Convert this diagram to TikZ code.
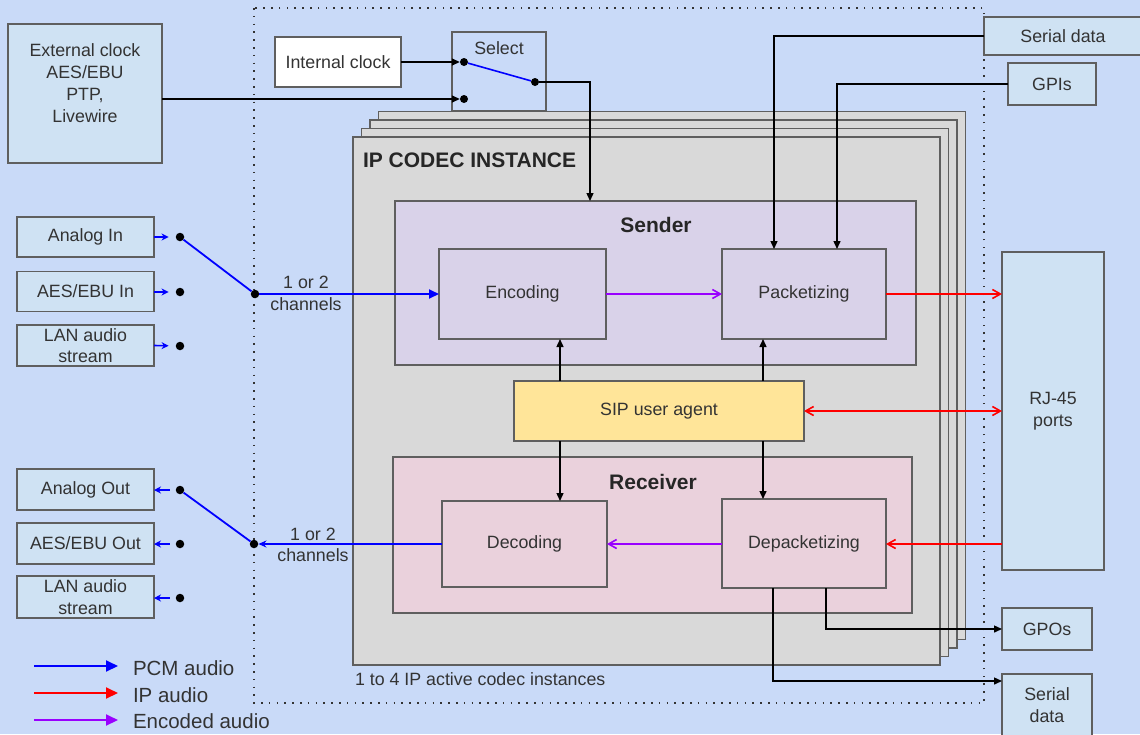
\documentclass[tikz,border=0pt]{standalone}
\usepackage{fontspec}
\setmainfont{Liberation Sans}
\usetikzlibrary{arrows.meta,calc}
\definecolor{bg}{HTML}{C9DAF8}
\definecolor{boxblue}{HTML}{CFE2F3}
\definecolor{stackgray}{HTML}{D9D9D9}
\definecolor{sendfill}{HTML}{D9D2E9}
\definecolor{recvfill}{HTML}{EAD1DC}
\definecolor{sipfill}{HTML}{FFE599}
\definecolor{edge}{HTML}{5F5F5F}
\definecolor{txt}{HTML}{333333}
\definecolor{pcm}{HTML}{0000FF}
\definecolor{ipa}{HTML}{FF0000}
\definecolor{enca}{HTML}{9900FF}
\newcommand\boxfnt{\fontsize{17.8}{21.5}\selectfont}
\newcommand\headfnt{\fontsize{21}{24}\selectfont\bfseries}
\tikzset{
  plainbox/.style={draw=edge, line width=1.3pt, inner sep=0pt, outer sep=0pt, align=center, text=txt, font=\boxfnt},
  lbox/.style={plainbox, fill=boxblue},
  lbl/.style={inner sep=0pt, outer sep=0pt, align=center, text=txt, font=\boxfnt},
  head/.style={inner sep=0pt, outer sep=0pt, text=black!85, font=\headfnt},
  blk/.style={draw=black, line width=1.4pt, -{Triangle[length=8pt,width=7pt]}},
  bluearr/.style={draw=pcm, line width=1.8pt, -{Triangle[length=10pt,width=9pt]}},
  smallblue/.style={draw=pcm, line width=1.6pt, -{Stealth[length=7pt,width=7pt]}},
  redarr/.style={draw=ipa, line width=1.6pt, -{Straight Barb[length=8pt,width=9pt]}},
  purparr/.style={draw=enca, line width=1.6pt, -{Straight Barb[length=8pt,width=9pt]}},
  dotnode/.style={circle, fill=black, inner sep=0pt, minimum size=8.5pt},
  frame/.style={draw=black!80, line width=1.6pt, dash pattern=on 1.6pt off 6.2pt},
  legarr/.style={line width=2pt, -{Triangle[length=12pt,width=11pt]}}
}
\begin{document}
\begin{tikzpicture}[x=1pt,y=-1pt]
\useasboundingbox (0,0) rectangle (1140,734);
\fill[bg] (0,0) rectangle (1140,734);
% dotted frame
\draw[frame] (254,8) rectangle (984,703);
% external clock
\node[lbox, minimum width=154, minimum height=139] (extclk) at (85,93.5) {};
\node[lbl, font=\fontsize{17.8}{22}\selectfont] (extclktxt) at (85,83) {External clock\\AES/EBU\\PTP,\\Livewire};
% internal clock and select
\node[plainbox, fill=white, minimum width=126, minimum height=50] (intclk) at (338,62) {Internal clock};
\node[plainbox, fill=bg, minimum width=94, minimum height=79] (select) at (499,71.5) {};
\node[lbl] (seltxt) at (499,48) {Select};
% codec stack
\foreach \k in {3,2,1} {
  \draw[draw=edge, line width=1.3pt, fill=stackgray] ({353+8.5*\k},{137-8.5*\k}) rectangle ({940+8.5*\k},{665-8.5*\k});
}
\node[plainbox, fill=stackgray, minimum width=587, minimum height=528] (codec) at (646.5,401) {};
\node[head, anchor=west] (codectitle) at (363,160) {IP CODEC INSTANCE};
% sender
\node[plainbox, fill=sendfill, minimum width=521, minimum height=164] (sender) at (655.5,283) {};
\node[head] (sendertxt) at (656,225) {Sender};
\node[plainbox, fill=sendfill, minimum width=167, minimum height=90] (enc) at (522.5,294) {Encoding};
\node[plainbox, fill=sendfill, minimum width=164, minimum height=90] (pack) at (804,294) {Packetizing};
% SIP
\node[plainbox, fill=sipfill, minimum width=290, minimum height=60] (sip) at (659,411) {SIP user agent};
% receiver
\node[plainbox, fill=recvfill, minimum width=519, minimum height=156] (recv) at (652.5,535) {};
\node[head] (recvtxt) at (653,482) {Receiver};
\node[plainbox, fill=recvfill, minimum width=165, minimum height=86] (dec) at (524.5,544) {Decoding};
\node[plainbox, fill=recvfill, minimum width=164, minimum height=89] (depack) at (804,543.5) {Depacketizing};
% right side
\node[lbox, minimum width=102, minimum height=318] (rj) at (1053,411) {RJ-45\\ports};
\node[lbox, minimum width=158, minimum height=38] (sertop) at (1063,36) {Serial data};
\node[lbox, minimum width=88, minimum height=42] (gpis) at (1052,84) {GPIs};
\node[lbox, minimum width=90, minimum height=42] (gpos) at (1047,629) {GPOs};
\node[lbox, minimum width=90, minimum height=62] (serbot) at (1047,705) {Serial\\data};
% left inputs
\node[lbox, minimum width=137, minimum height=40] (ain) at (85.5,237) {Analog In};
\node[lbox, minimum width=137, minimum height=40] (aesin) at (85.5,291.5) {AES/EBU In};
\node[lbox, minimum width=137, minimum height=41] (lanin) at (85.5,345.5) {LAN audio\\stream};
\node[lbox, minimum width=137, minimum height=41] (aout) at (85.5,489.5) {Analog Out};
\node[lbox, minimum width=137, minimum height=41] (aesout) at (85.5,543.5) {AES/EBU Out};
\node[lbox, minimum width=137, minimum height=42] (lanout) at (85.5,597) {LAN audio\\stream};
% dots
\node[dotnode] (d1) at (180,237) {};
\node[dotnode] (d2) at (180,292) {};
\node[dotnode] (d3) at (180,346) {};
\node[dotnode] (jin) at (255,294) {};
\node[dotnode] (o1) at (180,490) {};
\node[dotnode] (o2) at (180,544) {};
\node[dotnode] (o3) at (180,598) {};
\node[dotnode] (jout) at (254,544) {};
\node[dotnode, minimum size=8pt] (s1) at (464,62) {};
\node[dotnode, minimum size=8pt] (s2) at (464,99) {};
\node[dotnode, minimum size=8pt] (s3) at (535,82) {};
% helper coordinates
\coordinate (xa) at (560,0);
\coordinate (xb) at (763,0);
\coordinate (xc) at (826,0);
\coordinate (xd) at (773,0);
\coordinate (selin) at (590,201);
\coordinate (pin1) at (774,249);
\coordinate (pin2) at (837,249);
\coordinate (sbin) at (1002,681);
% clock connectors
\draw[blk] (intclk.east) -- (s1);
\draw[blk] (extclk.east |- s2) -- (s2);
\draw[draw=pcm, line width=1.6pt] (s1) -- (s3);
\draw[blk] (s3) -| (selin);
\draw[blk] (sertop.west) -| (pin1);
\draw[blk] (gpis.west) -| (pin2);
% inputs
\draw[smallblue, shorten >=7pt] (ain.east) -- (d1);
\draw[smallblue, shorten >=7pt] (aesin.east |- d2) -- (d2);
\draw[smallblue, shorten >=7pt] (lanin.east) -- (d3);
\draw[draw=pcm, line width=1.8pt] (d1) -- (jin);
\draw[bluearr] (jin) -- (enc.west);
\node[lbl] (lblin) at (306,293.5) {1 or 2\\channels};
% sender internals
\draw[purparr] (enc.east) -- (pack.west);
\draw[redarr] (pack.east) -- (rj.west |- pack.east);
\draw[blk] (xa |- sip.north) -- (xa |- enc.south);
\draw[blk] (xb |- sip.north) -- (xb |- pack.south);
\draw[blk] (xa |- sip.south) -- (xa |- dec.north);
\draw[blk] (xb |- sip.south) -- (xb |- depack.north);
\draw[draw=ipa, line width=1.6pt, {Straight Barb[length=8pt,width=9pt]}-{Straight Barb[length=8pt,width=9pt]}] (sip.east) -- (rj.west |- sip.east);
% receiver
\draw[redarr] (rj.west |- dec.east) -- (depack.east |- dec.east);
\draw[purparr] (depack.west |- dec.east) -- (dec.east);
\draw[draw=pcm, line width=1.8pt, -{Stealth[length=8pt,width=7pt]}] (dec.west) -- (jout);
\draw[draw=pcm, line width=1.8pt] (jout) -- (o1);
\node[lbl] (lblout) at (313,545) {1 or 2\\channels};
\draw[smallblue, shorten <=6pt] (o1) -- (aout.east |- o1);
\draw[smallblue, shorten <=6pt] (o2) -- (aesout.east |- o2);
\draw[smallblue, shorten <=6pt] (o3) -- (lanout.east |- o3);
\draw[blk] (xc |- depack.south) |- (gpos.west);
\draw[blk] (xd |- depack.south) |- (sbin);
% legend and notes
\node[lbl, anchor=west] (note) at (355,679) {1 to 4 IP active codec instances};
\coordinate (l1a) at (34,666); \coordinate (l1b) at (118,666);
\coordinate (l2a) at (34,693); \coordinate (l2b) at (118,693);
\coordinate (l3a) at (34,720); \coordinate (l3b) at (118,720);
\draw[legarr, pcm] (l1a) -- (l1b);
\draw[legarr, ipa] (l2a) -- (l2b);
\draw[legarr, enca] (l3a) -- (l3b);
\node[lbl, anchor=west, font=\fontsize{20.5}{24}\selectfont] (lg1) at (133,668) {PCM audio};
\node[lbl, anchor=west, font=\fontsize{20.5}{24}\selectfont] (lg2) at (133,695) {IP audio};
\node[lbl, anchor=west, font=\fontsize{20.5}{24}\selectfont] (lg3) at (133,721) {Encoded audio};
\end{tikzpicture}
\end{document}
